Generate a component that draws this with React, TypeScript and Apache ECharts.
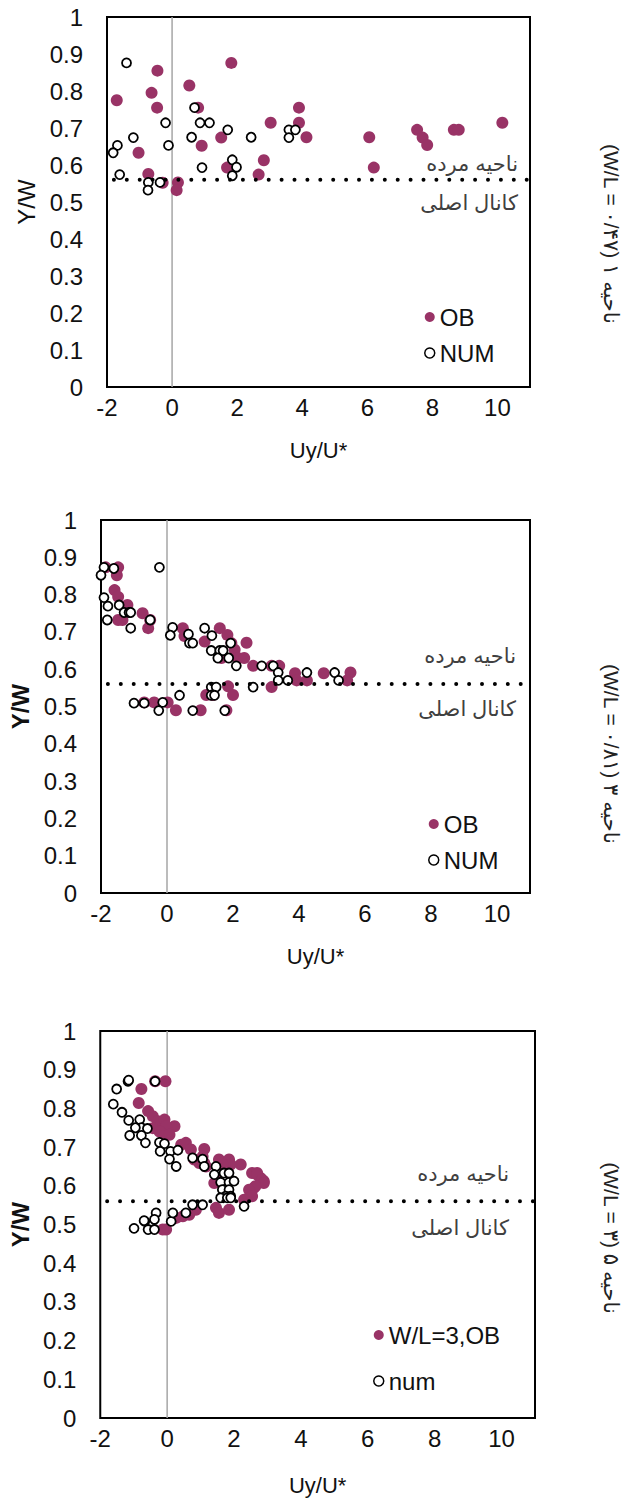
import React, { useEffect, useRef } from "react";
import * as echarts from "echarts";

// ---------- data ----------
const xMin = -2;
const xMax = 11;
const boundaryY = 0.56;

const p1OB: number[][] = [
  [-1.7, 0.775], [-0.45, 0.855], [-0.63, 0.795], [-0.46, 0.755], [-1.03, 0.633], [-0.73, 0.576],
  [-0.29, 0.552], [0.18, 0.553], [0.14, 0.532], [0.53, 0.815], [0.8, 0.755], [0.91, 0.652],
  [1.82, 0.876], [1.51, 0.674], [1.69, 0.593], [2.82, 0.613], [2.66, 0.574], [3.03, 0.714],
  [3.9, 0.755], [3.9, 0.714], [4.13, 0.675], [6.06, 0.675], [6.2, 0.593], [7.53, 0.695],
  [7.7, 0.674], [7.84, 0.654], [8.66, 0.695], [8.81, 0.695], [10.15, 0.714],
];
const p1NUM: number[][] = [
  [-1.4, 0.876], [-1.68, 0.653], [-1.81, 0.633], [-1.19, 0.674], [-1.61, 0.574], [-0.73, 0.553],
  [-0.74, 0.532], [-0.37, 0.553], [-0.2, 0.714], [-0.11, 0.653], [0.69, 0.755], [0.6, 0.675],
  [0.86, 0.714], [1.15, 0.714], [0.92, 0.593], [1.71, 0.695], [1.85, 0.614], [1.98, 0.594],
  [1.85, 0.571], [2.43, 0.675], [3.59, 0.695], [3.79, 0.695], [3.59, 0.674],
];

const p2OB: number[][] = [
  [-1.86, 0.873], [-1.48, 0.873], [-1.52, 0.852], [-1.59, 0.812], [-1.48, 0.794], [-1.2, 0.772],
  [-1.48, 0.732], [-1.35, 0.732], [-0.74, 0.75], [-0.57, 0.71], [-0.51, 0.732], [0.48, 0.71],
  [0.53, 0.689], [1.14, 0.674], [1.6, 0.71], [1.83, 0.692], [1.95, 0.67], [2.41, 0.671],
  [2.05, 0.652], [2.15, 0.63], [2.34, 0.63], [1.65, 0.63], [2.61, 0.609], [3.17, 0.609],
  [3.4, 0.609], [3.88, 0.589], [3.93, 0.57], [4.24, 0.57], [4.75, 0.589], [5.56, 0.591],
  [5.46, 0.57], [3.17, 0.552], [1.19, 0.531], [1.85, 0.554], [2.0, 0.531], [1.39, 0.531],
  [-0.69, 0.511], [-0.39, 0.511], [0.02, 0.511], [0.27, 0.49], [1.02, 0.49], [1.8, 0.49],
];
const p2NUM: number[][] = [
  [-1.91, 0.873], [-1.61, 0.87], [-2.0, 0.852], [-0.23, 0.873], [-1.91, 0.792], [-1.79, 0.769],
  [-1.45, 0.772], [-1.3, 0.752], [-1.15, 0.752], [-1.1, 0.752], [-1.81, 0.732], [-1.1, 0.71],
  [-0.51, 0.732], [0.17, 0.712], [0.1, 0.691], [0.65, 0.694], [0.68, 0.67], [0.78, 0.67],
  [1.14, 0.71], [1.36, 0.69], [1.93, 0.67], [1.34, 0.65], [1.6, 0.65], [1.7, 0.65],
  [1.54, 0.63], [1.87, 0.63], [2.1, 0.609], [2.87, 0.609], [3.22, 0.609], [3.37, 0.591],
  [3.37, 0.57], [3.66, 0.57], [4.24, 0.591], [5.08, 0.591], [5.2, 0.57], [2.61, 0.552],
  [0.38, 0.53], [1.34, 0.552], [1.49, 0.552], [1.34, 0.53], [1.44, 0.53], [-1.0, 0.509],
  [-0.69, 0.509], [-0.13, 0.511], [-0.25, 0.489], [0.78, 0.489], [1.75, 0.489],
];

const p3OB: number[][] = [
  [-0.36, 0.87], [-0.05, 0.87], [-0.77, 0.85], [-0.85, 0.814], [-0.57, 0.793], [-0.43, 0.78],
  [-0.28, 0.767], [-0.08, 0.771], [0.22, 0.754], [-0.03, 0.754], [-0.43, 0.749], [-0.23, 0.74],
  [-0.08, 0.728], [0.07, 0.732], [0.42, 0.706], [0.56, 0.711], [0.71, 0.694], [0.81, 0.668],
  [1.11, 0.695], [1.06, 0.676], [1.11, 0.659], [1.55, 0.668], [1.85, 0.668], [1.9, 0.655],
  [2.2, 0.655], [2.54, 0.633], [2.69, 0.633], [2.89, 0.612], [2.79, 0.62], [2.59, 0.594],
  [2.5, 0.581], [2.69, 0.629], [2.84, 0.616], [2.89, 0.607], [2.64, 0.599], [2.45, 0.59],
  [2.54, 0.573], [2.3, 0.564], [1.46, 0.543], [1.55, 0.53], [1.85, 0.538], [0.86, 0.538],
  [0.66, 0.525], [0.27, 0.517], [0.47, 0.521], [-0.03, 0.487], [-0.13, 0.487], [0.96, 0.659],
  [1.16, 0.65], [1.65, 0.655], [1.41, 0.607], [1.5, 0.62],
];
const p3NUM: number[][] = [
  [-1.17, 0.87], [-1.15, 0.873], [-0.36, 0.87], [-1.51, 0.85], [-1.61, 0.811], [-1.35, 0.79],
  [-1.15, 0.769], [-0.82, 0.771], [-0.77, 0.75], [-0.95, 0.75], [-0.59, 0.748], [-1.12, 0.73],
  [-0.77, 0.73], [-0.65, 0.711], [-0.23, 0.712], [-0.08, 0.709], [-0.21, 0.689], [0.1, 0.689],
  [0.32, 0.692], [0.07, 0.669], [0.27, 0.65], [0.76, 0.672], [1.06, 0.669], [1.11, 0.65],
  [1.46, 0.65], [1.41, 0.629], [1.7, 0.633], [1.85, 0.633], [1.6, 0.609], [1.85, 0.609],
  [2.0, 0.612], [1.65, 0.59], [1.85, 0.59], [1.75, 0.573], [1.9, 0.573], [1.6, 0.569],
  [1.8, 0.569], [1.9, 0.569], [2.3, 0.547], [0.76, 0.551], [1.06, 0.551], [0.56, 0.53],
  [0.12, 0.508], [0.17, 0.53], [-0.33, 0.53], [-0.38, 0.513], [-0.67, 0.508], [-0.57, 0.487],
  [-0.38, 0.487], [-0.99, 0.49], [-0.69, 0.51],
];

const seriesNames = [["OB", "NUM"], ["OB", "NUM"], ["W/L=3,OB", "num"]];
// written in visual (left-to-right) order so the rotated label reads like the original
const panelTitles = ["(W/L = ۰/۴۷) ۱ ناحیه", "(W/L = ۰/۸۱) ۳ ناحیه", "(W/L = ۳) ۵ ناحیه"];
const deadZoneLabel = "ناحیه مرده";
const mainChannelLabel = "کانال اصلی";
const xAxisTitle = "Uy/U*";
const yAxisTitle = "Y/W";

// ---------- layout ----------
const PURPLE = "#993366";
const FONT = "'Liberation Sans', Arial, sans-serif";
const FA_FONT = "'Liberation Sans', 'DejaVu Sans', sans-serif";

const grids = [
  { left: 107, top: 17, width: 423, height: 370 },
  { left: 101, top: 520, width: 429, height: 373 },
  { left: 97, top: 1031, width: 438, height: 387 },
];
const xNameGap = [52, 52, 56];
const yNameGap = [68, 62, 62];
const yNameBold = [false, true, true];
const legendPos = [
  { left: 419, top: 300, gap: 12 },
  { left: 423, top: 807, gap: 12 },
  { left: 368, top: 1318, gap: 22 },
];
const zoneLabelPos = [
  { x: 518, yTop: 163, yBot: 202 },
  { x: 516, yTop: 655, yBot: 708 },
  { x: 509, yTop: 1173, yBot: 1227 },
];
const sideTitlePos = [
  { x: 611, y: 234 },
  { x: 611, y: 754 },
  { x: 611, y: 1238 },
];

export default function App() {
  const ref = useRef<HTMLDivElement>(null);

  useEffect(() => {
    if (!ref.current) return;
    const chart = echarts.init(ref.current, undefined, { renderer: "svg" });
    const panelData = [
      [p1OB, p1NUM],
      [p2OB, p2NUM],
      [p3OB, p3NUM],
    ];

    const xAxis: any[] = [];
    const yAxis: any[] = [];
    const series: any[] = [];
    const legend: any[] = [];
    const graphic: any[] = [];

    grids.forEach((g, i) => {
      xAxis.push({
        type: "value",
        gridIndex: i,
        min: xMin,
        max: xMax,
        interval: 2,
        axisLine: { show: false },
        axisTick: { show: false },
        splitLine: { show: false },
        axisLabel: {
          showMaxLabel: false,
          fontSize: 24,
          color: "#111",
          fontFamily: FONT,
          margin: 8,
        },
        name: xAxisTitle,
        nameLocation: "middle",
        nameGap: xNameGap[i],
        nameTextStyle: { fontSize: 22, color: "#111", fontFamily: FONT },
      });
      yAxis.push({
        type: "value",
        gridIndex: i,
        min: 0,
        max: 1,
        interval: 0.1,
        axisLine: { show: false },
        axisTick: { show: false },
        splitLine: { show: false },
        axisLabel: {
          fontSize: 24,
          color: "#111",
          fontFamily: FONT,
          margin: 24,
          formatter: (v: number) => String(Math.round(v * 10) / 10),
        },
        name: yAxisTitle,
        nameLocation: "middle",
        nameRotate: 90,
        nameGap: yNameGap[i],
        nameTextStyle: {
          fontSize: 24,
          color: "#111",
          fontFamily: FONT,
          fontWeight: yNameBold[i] ? "bold" : "normal",
        },
      });

      // vertical zero line
      series.push({
        type: "line",
        xAxisIndex: i,
        yAxisIndex: i,
        data: [[0, 0], [0, 1]],
        symbol: "none",
        silent: true,
        lineStyle: { color: "#a6a6a6", width: 1.5 },
        z: 1,
      });

      const [ob, num] = panelData[i];
      series.push({
        type: "scatter",
        name: seriesNames[i][0],
        xAxisIndex: i,
        yAxisIndex: i,
        data: ob,
        symbol: "circle",
        symbolSize: 12,
        itemStyle: { color: PURPLE, opacity: 1 },
        z: 2,
      });
      series.push({
        type: "scatter",
        name: seriesNames[i][1],
        xAxisIndex: i,
        yAxisIndex: i,
        data: num,
        symbol: "circle",
        symbolSize: 9,
        itemStyle: { color: "#ffffff", borderColor: "#000", borderWidth: 1.8, opacity: 1 },
        z: 3,
      });
      // dotted boundary line
      series.push({
        type: "line",
        xAxisIndex: i,
        yAxisIndex: i,
        data: [[xMin, boundaryY], [xMax, boundaryY]],
        symbol: "none",
        silent: true,
        clip: false,
        lineStyle: { color: "#000", width: 4, type: [0, 12.9], cap: "round", dashOffset: 6 },
        z: 4,
      });

      legend.push({
        orient: "vertical",
        left: legendPos[i].left,
        top: legendPos[i].top,
        itemGap: legendPos[i].gap,
        itemWidth: 10,
        itemHeight: 10,
        data: seriesNames[i].map((n, k) => ({
          name: n,
          icon: "circle",
          itemStyle:
            k === 0
              ? { color: PURPLE, borderWidth: 0 }
              : { color: "#fff", borderColor: "#000", borderWidth: 1.5 },
        })),
        textStyle: { fontSize: 24, color: "#111", fontFamily: FONT, padding: [0, 0, 0, 0] },
        selectedMode: false,
      });

      graphic.push({
        type: "text",
        x: zoneLabelPos[i].x,
        y: zoneLabelPos[i].yTop,
        style: {
          text: deadZoneLabel,
          textAlign: "right",
          textVerticalAlign: "middle",
          fontSize: 21,
          fontFamily: FA_FONT,
          fill: "#404040",
        },
      });
      graphic.push({
        type: "text",
        x: zoneLabelPos[i].x,
        y: zoneLabelPos[i].yBot,
        style: {
          text: mainChannelLabel,
          textAlign: "right",
          textVerticalAlign: "middle",
          fontSize: 21,
          fontFamily: FA_FONT,
          fill: "#404040",
        },
      });
      graphic.push({
        type: "text",
        x: sideTitlePos[i].x,
        y: sideTitlePos[i].y,
        rotation: -Math.PI / 2,
        style: {
          text: panelTitles[i],
          textAlign: "center",
          textVerticalAlign: "middle",
          fontSize: 21,
          fontFamily: FA_FONT,
          fill: "#222",
        },
      });
    });

    chart.setOption({
      animation: false,
      backgroundColor: "#fff",
      grid: grids.map((g) => ({
        ...g,
        show: true,
        borderColor: "#000",
        borderWidth: 2,
        backgroundColor: "transparent",
        containLabel: false,
      })),
      xAxis,
      yAxis,
      legend,
      series,
      graphic,
    });

    return () => chart.dispose();
  }, []);

  return (
    <div
      ref={ref}
      style={{ position: "absolute", left: 0, top: 0, width: 625, height: 1506, background: "#fff" }}
    />
  );
}
